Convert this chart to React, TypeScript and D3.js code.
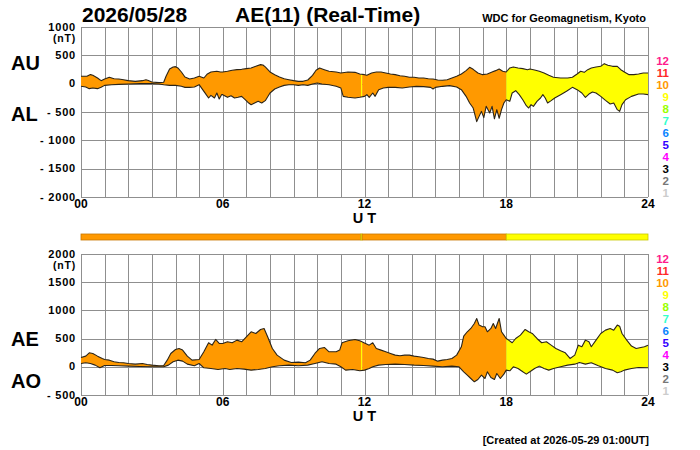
import { useMemo } from "react";
import * as d3 from "d3";

type Pt = [number, number]; // [hour UT, nT]

// ---- data ----
const AU: Pt[] = [
  [0, 130], [0.25, 130], [0.4, 160], [0.5, 147], [0.7, 100], [0.85, 53], [1.0, 82], [1.2, 112], [1.4, 88],
  [1.6, 82], [1.8, 70], [2.0, 53], [2.3, 41], [2.6, 53], [2.75, 70], [2.85, 55], [3.0, 30], [3.3, 18],
  [3.5, 24], [3.6, 130], [3.75, 260], [3.9, 295], [4.0, 300], [4.1, 277], [4.25, 206], [4.4, 118], [4.6, 82],
  [4.8, 100], [5.0, 130], [5.2, 100], [5.35, 171], [5.5, 206], [5.75, 218], [5.9, 206], [6.0, 206], [6.2, 218],
  [6.4, 236], [6.6, 247], [6.8, 253], [7.0, 265], [7.2, 277], [7.4, 306], [7.6, 336], [7.7, 330], [7.8, 295],
  [8.0, 206], [8.2, 159], [8.4, 118], [8.6, 88], [8.8, 70], [9.0, 53], [9.2, 41], [9.4, 41], [9.6, 65],
  [9.8, 147], [9.95, 236], [10.1, 277], [10.3, 247], [10.5, 218], [10.8, 206], [11.0, 188], [11.3, 206],
  [11.6, 200], [11.8, 171], [12.0, 159], [12.1, 147], [12.3, 188], [12.5, 206], [12.7, 206], [12.9, 188],
  [13.1, 171], [13.3, 159], [13.5, 141], [13.7, 130], [13.9, 112], [14.1, 112], [14.3, 100], [14.5, 100],
  [14.7, 88], [14.9, 82], [15.1, 65], [15.3, 59], [15.5, 70], [15.7, 100], [15.9, 130], [16.1, 171],
  [16.3, 230], [16.45, 289], [16.6, 253], [16.8, 188], [17.0, 159], [17.2, 171], [17.4, 206], [17.55, 230],
  [17.7, 259], [17.85, 218], [18.0, 206], [18.15, 277], [18.3, 295], [18.5, 277], [18.7, 265], [18.9, 247],
  [19.0, 259], [19.2, 241], [19.4, 218], [19.6, 188], [19.8, 147], [20.0, 112], [20.3, 100], [20.6, 100],
  [20.8, 112], [21.0, 171], [21.15, 218], [21.3, 200], [21.45, 247], [21.6, 277], [21.8, 295], [22.0, 306],
  [22.15, 353], [22.3, 324], [22.5, 306], [22.7, 306], [22.85, 247], [23.0, 206], [23.2, 159], [23.4, 159],
  [23.6, 171], [23.8, 188], [24.0, 188],
];

const AL: Pt[] = [
  [0, -47], [0.2, -59], [0.35, -88], [0.5, -77], [0.7, -88], [0.85, -65], [1.0, -30], [1.3, -18], [1.6, -12],
  [2.0, -6], [2.5, 0], [3.0, 0], [3.3, -6], [3.5, -18], [3.75, -30], [4.0, -30], [4.25, -47], [4.4, -65],
  [4.6, -65], [4.8, -59], [5.0, -18], [5.15, -106], [5.3, -194], [5.4, -253], [5.5, -206], [5.65, -253],
  [5.75, -165], [5.85, -271], [5.95, -194], [6.0, -194], [6.2, -241], [6.35, -212], [6.5, -253], [6.65, -241],
  [6.8, -224], [6.95, -283], [7.1, -342], [7.2, -371], [7.35, -342], [7.5, -312], [7.65, -342], [7.8, -300],
  [8.0, -165], [8.2, -94], [8.4, -59], [8.6, -30], [8.8, -18], [9.0, -18], [9.2, -30], [9.4, -18], [9.6, -30],
  [9.8, -6], [10.0, 12], [10.2, -6], [10.5, -18], [10.8, -47], [11.0, -77], [11.1, -224], [11.3, -241],
  [11.6, -253], [11.8, -241], [12.0, -224], [12.1, -194], [12.2, -241], [12.35, -165], [12.45, -224],
  [12.6, -106], [12.8, -77], [13.0, -65], [13.3, -65], [13.6, -77], [13.9, -59], [14.2, -47], [14.5, -53],
  [14.8, -65], [14.9, -94], [15.0, -65], [15.3, -47], [15.6, -35], [15.9, -59], [16.1, -106], [16.3, -224],
  [16.45, -342], [16.6, -430], [16.75, -670], [16.85, -577], [16.95, -489], [17.05, -600], [17.15, -400],
  [17.3, -518], [17.4, -400], [17.5, -620], [17.6, -459], [17.7, -610], [17.8, -459], [17.9, -342],
  [18.0, -283], [18.15, -312], [18.25, -165], [18.4, -124], [18.55, -194], [18.7, -283], [18.85, -389],
  [18.95, -430], [19.05, -371], [19.15, -400], [19.3, -312], [19.45, -253], [19.55, -194], [19.65, -253],
  [19.75, -342], [19.9, -300], [20.05, -253], [20.3, -194], [20.55, -135], [20.8, -65], [21.0, -106],
  [21.2, -165], [21.35, -241], [21.5, -183], [21.65, -147], [21.8, -165], [22.0, -224], [22.2, -294],
  [22.4, -359], [22.55, -342], [22.7, -459], [22.8, -489], [22.9, -371], [23.05, -283], [23.3, -224],
  [23.6, -183], [23.8, -183], [24.0, -194],
];

const AE: Pt[] = [
  [0, 165], [0.2, 189], [0.35, 248], [0.5, 236], [0.7, 189], [0.9, 148], [1.0, 130], [1.2, 118], [1.4, 89],
  [1.6, 77], [1.8, 71], [2.0, 59], [2.3, 47], [2.6, 59], [2.8, 41], [3.0, 30], [3.3, 18], [3.5, 24],
  [3.65, 118], [3.8, 236], [4.0, 307], [4.15, 325], [4.3, 296], [4.5, 189], [4.7, 118], [5.0, 130],
  [5.2, 266], [5.4, 426], [5.55, 384], [5.7, 485], [5.85, 414], [6.0, 414], [6.2, 443], [6.4, 426],
  [6.6, 473], [6.8, 443], [7.0, 532], [7.2, 621], [7.4, 591], [7.6, 662], [7.75, 680], [7.9, 532],
  [8.1, 325], [8.3, 207], [8.6, 118], [8.9, 77], [9.2, 83], [9.5, 71], [9.7, 118], [9.9, 236], [10.1, 325],
  [10.3, 343], [10.5, 266], [10.8, 266], [10.95, 296], [11.05, 426], [11.3, 461], [11.6, 485], [11.8, 461],
  [12.0, 420], [12.2, 384], [12.35, 426], [12.5, 325], [12.7, 296], [12.9, 266], [13.1, 236], [13.3, 207],
  [13.5, 195], [13.7, 207], [13.9, 207], [14.1, 189], [14.3, 177], [14.5, 165], [14.7, 148], [14.9, 136],
  [15.1, 100], [15.3, 118], [15.5, 130], [15.7, 148], [15.9, 207], [16.1, 355], [16.2, 544], [16.35, 621],
  [16.5, 680], [16.65, 768], [16.75, 857], [16.85, 739], [17.0, 709], [17.1, 709], [17.2, 621], [17.35, 680],
  [17.45, 768], [17.55, 680], [17.7, 857], [17.8, 621], [17.9, 562], [18.0, 502], [18.1, 473], [18.25, 426],
  [18.4, 502], [18.6, 562], [18.8, 662], [18.95, 621], [19.1, 591], [19.3, 502], [19.5, 426], [19.7, 443],
  [19.9, 384], [20.1, 325], [20.3, 284], [20.5, 248], [20.7, 148], [20.9, 207], [21.05, 384], [21.2, 355],
  [21.35, 473], [21.5, 443], [21.6, 355], [21.8, 473], [22.0, 591], [22.2, 650], [22.4, 680], [22.55, 650],
  [22.7, 739], [22.8, 721], [22.9, 591], [23.1, 473], [23.3, 367], [23.5, 325], [23.7, 343], [23.85, 355],
  [24.0, 384],
];

const AO: Pt[] = [
  [0, 59], [0.2, 71], [0.4, 59], [0.6, 30], [0.8, -18], [1.0, 24], [1.3, 24], [1.6, 18], [2.0, 12], [2.5, 6],
  [3.0, 0], [3.5, 0], [3.7, 30], [3.9, 89], [4.1, 118], [4.3, 100], [4.5, 47], [4.8, 18], [5.0, 59],
  [5.2, -18], [5.5, -30], [5.8, -47], [6.1, -30], [6.3, -47], [6.6, -30], [6.9, -41], [7.2, -59], [7.5, -47],
  [7.8, -30], [8.1, 0], [8.4, 18], [8.8, 30], [9.2, 18], [9.6, 30], [9.9, 59], [10.2, 89], [10.5, 59],
  [10.8, 47], [11.0, 0], [11.2, -59], [11.5, -47], [11.8, -71], [12.0, -59], [12.2, -30], [12.35, 0],
  [12.6, 30], [12.9, 41], [13.3, 47], [13.7, 41], [14.1, 30], [14.5, 24], [14.9, 12], [15.3, 0], [15.7, 12],
  [16.0, 0], [16.2, -89], [16.35, -148], [16.5, -207], [16.65, -266], [16.8, -225], [16.95, -148],
  [17.1, -207], [17.2, -89], [17.35, -189], [17.5, -225], [17.6, -118], [17.75, -207], [17.9, -130],
  [18.0, -59], [18.15, -71], [18.3, 0], [18.5, -30], [18.7, -89], [18.85, -130], [19.0, -89], [19.2, -30],
  [19.4, 12], [19.6, -30], [19.8, -59], [20.0, -30], [20.3, 0], [20.6, 30], [20.9, 47], [21.1, 77],
  [21.35, 47], [21.6, 71], [21.9, 18], [22.2, -30], [22.5, -59], [22.7, -106], [22.85, -89], [23.0, -59],
  [23.3, -30], [23.6, -12], [24.0, -18],
];

// [start hour, end hour, number of stations]
const STATIONS: [number, number, number][] = [
  [0, 11.85, 10],
  [11.85, 11.9, 9],
  [11.9, 18, 10],
  [18, 24, 9],
];

const STATION_COLORS: Record<number, string> = {
  12: "#ff1a8c",
  11: "#ff2626",
  10: "#ff9900",
  9: "#ffff00",
  8: "#99ff00",
  7: "#33ffcc",
  6: "#0a84ff",
  5: "#3300ff",
  4: "#ff00ff",
  3: "#000000",
  2: "#777777",
  1: "#cccccc",
};
const LEGEND_COUNTS = [12, 11, 10, 9, 8, 7, 6, 5, 4, 3, 2, 1];

const HOUR_TICKS = [0, 6, 12, 18, 24];
const TOP_TICKS = [1000, 500, 0, -500, -1000, -1500, -2000];
const BOTTOM_TICKS = [2000, 1500, 1000, 500, 0, -500];

const FONT = "'Liberation Sans', Arial, Helvetica, sans-serif";
const GRID = "#8f8f8f";
const EDGE = "#2b2418";

const x = d3.scaleLinear().domain([0, 24]).range([81, 648]);
const fmtHour = d3.format("02d");
const fmtNt = (v: number) => (v < 0 ? `- ${-v}` : `${v}`);

interface PanelProps {
  id: string;
  domain: [number, number];
  range: [number, number];
  ticks: number[];
  upper: Pt[];
  lower: Pt[];
  upLabel: [string, number];
  lowLabel: [string, number];
}

function Panel({ id, domain, range, ticks, upper, lower, upLabel, lowLabel }: PanelProps) {
  const y = useMemo(() => d3.scaleLinear().domain(domain).range(range), [domain, range]);
  const [bottom, top] = range;
  const line = d3.line<Pt>().x((d) => x(d[0])).y((d) => y(d[1]));
  const upPath = line(upper) ?? "";
  const lowPath = line(lower) ?? "";
  const back = line([...lower].reverse()) ?? "";
  const band = `${upPath}L${back.slice(1)}Z`;
  const snap = (v: number) => Math.round(v) + 0.5;

  return (
    <g>
      <defs>
        {STATIONS.map(([s, e], i) => (
          <clipPath key={i} id={`${id}-clip-${i}`}>
            <rect x={x(s)} y={top - 20} width={x(e) - x(s)} height={bottom - top + 40} />
          </clipPath>
        ))}
      </defs>

      {/* grid */}
      {d3.range(0, 25).map((h) => (
        <line key={`v${h}`} x1={snap(x(h))} x2={snap(x(h))} y1={top} y2={bottom} stroke={GRID} strokeWidth={1} />
      ))}
      {ticks.map((t) => (
        <line key={`h${t}`} x1={x(0)} x2={x(24)} y1={snap(y(t))} y2={snap(y(t))} stroke={GRID} strokeWidth={1} />
      ))}

      {/* band coloured by number of stations */}
      {STATIONS.map(([, , n], i) => (
        <path key={i} d={band} fill={STATION_COLORS[n]} clipPath={`url(#${id}-clip-${i})`} />
      ))}
      <path d={upPath} fill="none" stroke={EDGE} strokeWidth={1.1} strokeLinejoin="round" />
      <path d={lowPath} fill="none" stroke={EDGE} strokeWidth={1.1} strokeLinejoin="round" />

      {/* y tick labels */}
      {ticks.map((t) => (
        <text key={`t${t}`} x={76} y={y(t) + 3.5} textAnchor="end" fontSize={11} fontWeight="bold" letterSpacing={0.8}>
          {fmtNt(t)}
        </text>
      ))}
      <text x={76} y={top + 14.5} textAnchor="end" fontSize={10.5} fontWeight="bold" letterSpacing={0.8}>
        (nT)
      </text>

      {/* index names */}
      <text x={11} y={y(upLabel[1])} fontSize={20} fontWeight="bold">{upLabel[0]}</text>
      <text x={11} y={y(lowLabel[1])} fontSize={20} fontWeight="bold">{lowLabel[0]}</text>

      {/* x tick labels */}
      {HOUR_TICKS.map((h) => (
        <text key={`x${h}`} x={x(h)} y={bottom + 11} textAnchor="middle" fontSize={12} fontWeight="bold">
          {fmtHour(h)}
        </text>
      ))}
      <text x={x(12)} y={bottom + 26} textAnchor="middle" fontSize={14.5} fontWeight="bold">
        U T
      </text>

      {/* station count legend */}
      {LEGEND_COUNTS.map((n, i) => (
        <text
          key={`l${n}`}
          x={669}
          y={bottom - (LEGEND_COUNTS.length - 1 - i) * 12}
          textAnchor="end"
          fontSize={11.5}
          fontWeight="bold"
          fill={STATION_COLORS[n]}
        >
          {n}
        </text>
      ))}
    </g>
  );
}

export default function App() {
  return (
    <svg
      width={700}
      height={450}
      viewBox="0 0 700 450"
      style={{ position: "absolute", left: 0, top: 0, background: "#fff" }}
      fontFamily={FONT}
    >
      <text x={82} y={22} fontSize={21} fontWeight="bold">2026/05/28</text>
      <text x={235} y={22} fontSize={21} fontWeight="bold">AE(11) (Real-Time)</text>
      <text x={646} y={22} textAnchor="end" fontSize={11} fontWeight="bold">WDC for Geomagnetism, Kyoto</text>

      <Panel
        id="top"
        domain={[-2000, 1000]}
        range={[197, 27]}
        ticks={TOP_TICKS}
        upper={AU}
        lower={AL}
        upLabel={["AU", 250]}
        lowLabel={["AL", -650]}
      />

      {/* station count bar */}
      {STATIONS.map(([s, e, n], i) => (
        <rect
          key={i}
          x={x(s)}
          y={234}
          width={x(e) - x(s)}
          height={6}
          fill={STATION_COLORS[n]}
          stroke={d3.color(STATION_COLORS[n])!.darker(0.7).formatHex()}
          strokeWidth={0.8}
        />
      ))}

      <Panel
        id="bot"
        domain={[-500, 2000]}
        range={[395, 254]}
        ticks={BOTTOM_TICKS}
        upper={AE}
        lower={AO}
        upLabel={["AE", 370]}
        lowLabel={["AO", -370]}
      />

      <text x={649} y={444} textAnchor="end" fontSize={11} fontWeight="bold">
        [Created at 2026-05-29 01:00UT]
      </text>
    </svg>
  );
}
